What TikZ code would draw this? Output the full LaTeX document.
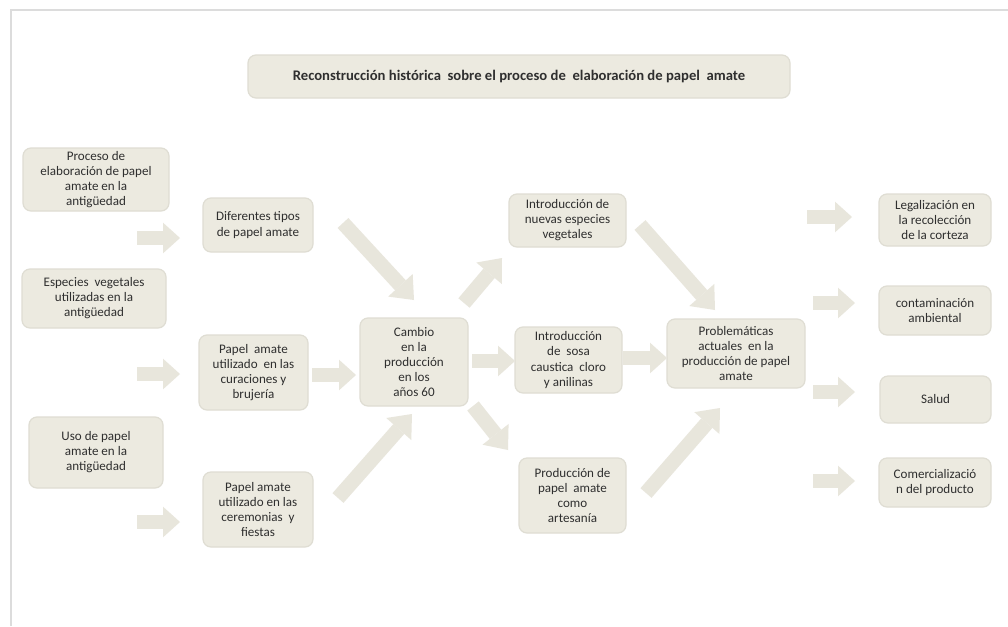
\documentclass[tikz,border=0pt]{standalone}
\usepackage{fontspec}
\setmainfont{Carlito}
\usetikzlibrary{arrows.meta}
\definecolor{boxfill}{HTML}{ECEAE0}
\definecolor{boxline}{HTML}{DFDDD3}
\definecolor{arrowfill}{HTML}{E8E6DC}
\definecolor{frameline}{HTML}{DCDCDC}
\definecolor{txt}{HTML}{2F2F2F}
\tikzset{
  box/.style={draw=boxline, line width=0.9pt, fill=boxfill, rounded corners=6pt,
    align=center, text=txt, font=\fontsize{9.8}{11.3}\selectfont, inner sep=0pt},
  sz/.style 2 args={minimum width=#1*0.75pt, minimum height=#2*0.75pt},
  harrow/.style={draw=arrowfill, line width=10.5pt,
    -{Triangle[length=12.75pt,width=23pt,line width=0pt]}},
  darrow/.style={draw=arrowfill, line width=11pt,
    -{Triangle[length=15pt,width=25pt,line width=0pt]}},
}
\begin{document}
\begin{tikzpicture}[x=0.75pt,y=-0.75pt]
\useasboundingbox (0,0) rectangle (1008,626);
\fill[white] (0,0) rectangle (1008,626);
\coordinate (fa) at (11,626);
\coordinate (fb) at (11,10);
\coordinate (fc) at (1008,10);
\draw[frameline, line width=1.4pt] (fa) -- (fb) -- (fc);

% title
\node[box, sz={542}{43}, font=\fontsize{11}{13}\selectfont\bfseries] (title) at (519,76.5)
  {Reconstrucción histórica\ \ sobre el proceso de\ \ elaboración de papel\ \ amate};

% column 1
\node[box, sz={146}{63}] (p1) at (96,179.5) {Proceso de\\elaboración de papel\\amate en la\\antigüedad};
\node[box, sz={144}{59}] (p2) at (94,298.5) {Especies\ \ vegetales\\utilizadas en la\\antigüedad};
\node[box, sz={134}{71}] (p3) at (96,452.5) {Uso de papel\\amate en la\\antigüedad};

% column 2
\node[box, sz={110}{54}] (d1) at (258,225) {Diferentes tipos\\de papel amate};
\node[box, sz={109}{75}] (d2) at (253.5,372.5) {Papel\ \ amate\\utilizado\ \ en las\\curaciones y\\brujería};
\node[box, sz={110}{75}] (d3) at (258,509.5) {Papel amate\\utilizado en las\\ceremonias\ \ y\\fiestas};

% center
\node[box, sz={108}{88}] (c) at (414,362) {Cambio\\en la\\producción\\en los\\años 60};

% column 4
\node[box, sz={117}{53}] (i1) at (567.5,220.5) {Introducción de\\nuevas especies\\vegetales};
\node[box, sz={107}{66}] (i2) at (568.5,360) {Introducción\\de\ \ sosa\\caustica\ \ cloro\\y anilinas};
\node[box, sz={107}{75}] (i3) at (572.5,495.5) {Producción de\\papel\ \ amate\\como\\artesanía};

% problemáticas
\node[box, sz={138}{69}] (pr) at (736,353.5) {Problemáticas\\actuales\ \ en la\\producción de papel\\amate};

% right column
\node[box, sz={112}{52}] (r1) at (935,220) {Legalización en\\la recolección\\de la corteza};
\node[box, sz={112}{49}] (r2) at (935,310.5) {contaminación\\ambiental};
\node[box, sz={111}{47}] (r3) at (935.5,399.5) {Salud};
\node[box, sz={112}{49}] (r4) at (935,482.5) {Comercializació\\n del producto};

% arrow end points
\coordinate (a1s) at (137,238);  \coordinate (a1e) at (180,238);
\coordinate (a2s) at (137,374);  \coordinate (a2e) at (180,374);
\coordinate (a3s) at (137,522);  \coordinate (a3e) at (180,522);
\coordinate (a4s) at (312,375);  \coordinate (a4e) at (356,375);
\coordinate (a5s) at (472,361);  \coordinate (a5e) at (515,361);
\coordinate (a6s) at (623,358);  \coordinate (a6e) at (667,358);
\coordinate (ra1s) at (807,217); \coordinate (ra1e) at (852,217);
\coordinate (ra2s) at (813,303); \coordinate (ra2e) at (855,303);
\coordinate (ra3s) at (813,392); \coordinate (ra3e) at (855,392);
\coordinate (ra4s) at (813,481); \coordinate (ra4e) at (855,481);
\coordinate (b1s) at (343,223);  \coordinate (b1e) at (414,300);
\coordinate (b2s) at (338,498);  \coordinate (b2e) at (412,414);
\coordinate (b3s) at (464,303);  \coordinate (b3e) at (502,258);
\coordinate (b4s) at (473,406);  \coordinate (b4e) at (508,450);
\coordinate (b5s) at (640,225);  \coordinate (b5e) at (715,310);
\coordinate (b6s) at (646,493);  \coordinate (b6e) at (720,408);

\draw[harrow] (a1s) -- (a1e);
\draw[harrow] (a2s) -- (a2e);
\draw[harrow] (a3s) -- (a3e);
\draw[harrow] (a4s) -- (a4e);
\draw[harrow] (a5s) -- (a5e);
\draw[harrow] (a6s) -- (a6e);
\draw[harrow] (ra1s) -- (ra1e);
\draw[harrow] (ra2s) -- (ra2e);
\draw[harrow] (ra3s) -- (ra3e);
\draw[harrow] (ra4s) -- (ra4e);
\draw[darrow] (b1s) -- (b1e);
\draw[darrow] (b2s) -- (b2e);
\draw[darrow] (b3s) -- (b3e);
\draw[darrow] (b4s) -- (b4e);
\draw[darrow] (b5s) -- (b5e);
\draw[darrow] (b6s) -- (b6e);
\end{tikzpicture}
\end{document}
